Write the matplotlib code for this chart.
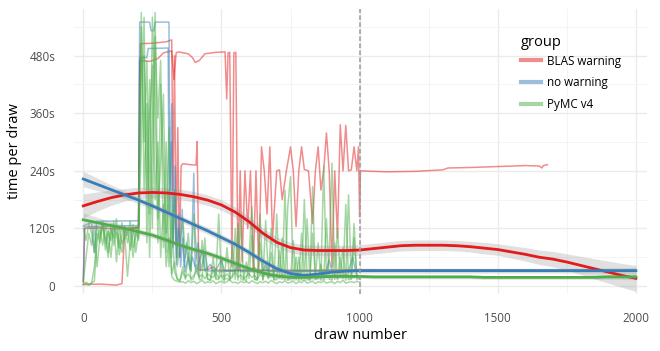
import numpy as np
import matplotlib
matplotlib.use('Agg')
import matplotlib.pyplot as plt
from matplotlib.lines import Line2D

plt.rcParams['font.family'] = ['Open Sans', 'DejaVu Sans']

groups = ['BLAS warning', 'no warning', 'PyMC v4']
colors = ['#E41A1C', '#377EB8', '#4DAF4A']

# ---- raw chains: BLAS warning (draw, seconds per draw) ----
blas_a_x = [0, 60, 120, 140, 150, 200, 204, 240, 270, 290, 320, 328, 336, 344, 380, 395, 405, 420, 440, 480,
            513, 519, 524, 530, 538, 545, 552, 560, 568, 575, 585, 595, 605, 615, 625, 635, 645, 655, 665, 675,
            685, 700, 710, 720, 735, 750, 760, 770, 780, 790, 800, 815, 830, 840, 850, 860, 870, 880, 890, 900,
            910, 920, 930, 940, 950, 960, 970, 980, 990, 996, 1000, 1003, 1100, 1200, 1300, 1320, 1400, 1500, 1600, 1650,
            1660, 1665, 1680]
blas_a_y = [3, 4, 2, 5, 118, 122, 470, 468, 474, 486, 490, 430, 486, 488, 484, 476, 466, 470, 484, 487,
            488, 390, 486, 487, 40, 486, 487, 30, 240, 50, 240, 120, 240, 30, 240, 35, 290, 240, 150, 290,
            100, 240, 242, 180, 240, 290, 240, 124, 240, 290, 243, 240, 130, 240, 290, 200, 240, 319, 240, 40,
            240, 100, 336, 240, 335, 240, 242, 290, 240, 290, 144, 240, 238, 239, 242, 246, 247, 249, 251, 250,
            246, 251, 253]
blas_b_x = [0, 5, 60, 120, 200, 207, 250, 300, 320, 325, 330, 336, 342, 348, 354, 360, 385, 408, 412, 418,
            450, 470, 480, 600, 620, 630, 800, 1000, 2000]
blas_b_y = [8, 120, 121, 119, 122, 505, 506, 509, 513, 200, 480, 90, 330, 60, 250, 255, 253, 252, 301, 33,
            34, 40, 33, 33, 38, 33, 33, 34, 33]

# ---- raw chains: no warning ----
nowarn_a_x = [0, 5, 100, 200, 204, 240, 245, 255, 260, 310, 314, 320, 326, 332, 338, 345, 352, 360, 368, 380,
              390, 400, 405, 415, 425, 440, 450, 480, 500, 510, 600, 640, 700, 960, 975, 985, 1000, 2000]
nowarn_a_y = [10, 123, 125, 126, 550, 550, 532, 532, 550, 550, 200, 380, 90, 250, 60, 150, 40, 100, 30, 60,
              32, 235, 40, 90, 32, 70, 31, 33, 55, 32, 32, 33, 31, 32, 60, 32, 32, 32]
nowarn_b_x = [0, 30, 40, 48, 200, 204, 230, 235, 307, 311, 318, 324, 330, 337, 344, 350, 358, 365, 375, 385,
              395, 410, 430, 440, 460, 470, 550, 560, 570, 650, 660, 670, 880, 890, 900, 1000, 2000]
nowarn_b_y = [125, 133, 70, 135, 136, 476, 476, 495, 496, 150, 300, 80, 200, 45, 120, 60, 160, 40, 90, 35,
              60, 30, 75, 31, 45, 30, 31, 50, 30, 31, 45, 30, 31, 55, 30, 31, 31]

# ---- raw chains: PyMC v4, one value every 10 draws from 0 to 1000 ----
pymc_a = [120, 95, 130, 110, 70, 125, 100, 135, 90, 115, 60, 128, 105, 80, 132, 98, 120, 75, 110, 125, 100,
          540, 300, 470, 150, 560, 380, 90, 420, 250, 110, 330, 60, 200, 40, 90,
          140, 60, 110, 30, 150, 70, 20, 95, 40, 15,
          12, 60, 15, 150, 20, 10, 80, 14, 18, 120, 12, 140, 16, 10, 60, 165, 15, 12, 90, 14,
          137, 20, 70, 12, 150, 18, 100, 14, 165, 228, 15, 60, 12, 110, 20, 140, 14, 207, 16, 90,
          12, 250, 18, 60, 256, 14, 120, 20, 80, 12, 190, 15, 130, 18, 20]
pymc_b = [5, 8, 4, 6, 10, 95, 120, 85, 130, 70, 118, 100, 140, 65, 105, 125, 90, 115, 60, 108, 130,
          470, 480, 200, 430, 120, 520, 350, 470, 80, 300, 40, 150, 30, 15, 12,
          40, 18, 25, 16, 22, 30, 18, 24, 15, 26, 20, 18, 28, 16, 22, 19, 25, 17, 21, 30,
          18, 23, 16, 20, 26, 18, 22, 15, 24, 19, 27, 17, 21, 18, 25, 16, 23, 20, 18, 26,
          17, 22, 19, 24, 16, 21, 25, 18, 20, 23, 17, 26, 19, 22, 18, 24, 16, 21, 20, 25,
          18, 22, 19, 23, 20]
pymc_c = [10, 60, 110, 85, 125, 40, 100, 130, 75, 115, 95, 135, 50, 120, 88, 105, 20, 90, 128, 70, 115,
          570, 200, 380, 60, 320, 570, 140, 260, 400, 70, 200, 20, 12, 10, 8,
          9, 6, 11, 7, 10, 5, 8, 12, 6, 9, 7, 11, 5, 8, 10, 6, 9, 13, 7, 8,
          5, 10, 7, 9, 6, 11, 8, 5, 9, 7, 10, 6, 12, 8, 5, 9, 7, 11, 6, 8,
          10, 5, 9, 7, 12, 6, 8, 10, 5, 9, 7, 11, 6, 8, 9, 5, 10, 7, 12, 6,
          8, 9, 7, 10, 8]
pymc_d = [3, 5, 2, 6, 40, 110, 90, 125, 100, 60, 130, 85, 115, 95, 70, 120, 105, 135, 80, 110, 95,
          300, 560, 90, 350, 460, 180, 300, 60, 170, 40, 100, 25, 50, 14, 10,
          30, 14, 70, 12, 16, 45, 13, 15, 100, 14, 12, 35, 15, 13, 60, 14, 16, 12, 85,
          14, 130, 15, 12, 50, 16, 105, 13, 14, 150, 12, 40, 15, 120, 14, 13, 75, 15, 200, 12,
          16, 95, 14, 60, 13, 180, 15, 12, 110, 14, 16, 45, 13, 140, 15, 12, 90, 14, 60, 16,
          170, 13, 15, 100, 14, 16]

# ---- smooth fits (every 50 draws, 0..2000) and their +/- band ----
fit_x = np.arange(0, 2001, 50)
blas_fit = [167, 176, 184, 190, 194, 195, 194, 191, 186, 179,
            169, 154, 134, 110, 91, 80, 75, 74, 74, 74,
            75, 78, 81, 84, 85, 85, 85, 84, 82, 79,
            76, 71, 66, 60, 56, 50, 43, 36, 29, 22, 16]
blas_se = [25, 20, 16, 13, 12, 11, 11, 11, 11, 11,
           11, 11, 11, 11, 11, 11, 11, 11, 11, 11,
           11, 11, 11, 11, 11, 11, 11, 11, 11, 12,
           12, 13, 14, 15, 16, 17, 19, 21, 23, 25, 27]
nowarn_fit = [223, 212, 201, 190, 179, 167, 154, 141, 128, 115,
              101, 87, 70, 52, 36, 26, 22, 25, 29, 31,
              32, 32, 32, 32, 32, 32, 32, 32, 32, 32,
              32, 32, 32, 32, 32, 32, 32, 32, 32, 32, 32]
nowarn_se = [16, 13, 10, 8, 7, 7, 7, 7, 7, 7,
             7, 7, 7, 7, 7, 7, 7, 6, 6, 6,
             5, 5, 5, 5, 5, 5, 5, 5, 5, 5,
             5, 5, 5, 5, 5, 5, 5, 5, 6, 6, 7]
pymc_fit = [138, 132, 126, 120, 113, 106, 96, 85, 76, 68,
            58, 47, 36, 27, 21, 18, 18, 19, 20, 20,
            20, 19, 19, 19, 19, 19, 19, 19, 19, 18,
            18, 18, 18, 18, 18, 18, 18, 18, 19, 19, 19]
pymc_se = [14, 11, 8, 7, 6, 6, 6, 6, 6, 6,
           6, 6, 6, 6, 6, 6, 6, 6, 5, 5,
           4, 4, 4, 4, 4, 4, 4, 4, 4, 4,
           4, 4, 4, 4, 4, 4, 4, 4, 5, 5, 6]

raw = {
    'BLAS warning': [(blas_a_x, blas_a_y), (blas_b_x, blas_b_y)],
    'no warning': [(nowarn_a_x, nowarn_a_y), (nowarn_b_x, nowarn_b_y)],
    'PyMC v4': [(np.arange(len(c)) * 10, c) for c in (pymc_a, pymc_b, pymc_c, pymc_d)],
}
fits = {
    'BLAS warning': (blas_fit, blas_se),
    'no warning': (nowarn_fit, nowarn_se),
    'PyMC v4': (pymc_fit, pymc_se),
}

fig = plt.figure(figsize=(6.6, 3.51), dpi=100)
ax = fig.add_axes([0.1121, 0.1638, 0.8677, 0.8097])

for g, c in zip(groups, colors):
    for xs, ys in raw[g]:
        ax.plot(xs, ys, color=c, lw=1.1, alpha=0.5, zorder=2)

for g, c in zip(groups, colors):
    f, se = np.array(fits[g][0]), np.array(fits[g][1])
    ax.fill_between(fit_x, f - se, f + se, color='#999999', alpha=0.3, lw=0, zorder=3)
    ax.plot(fit_x, f, color=c, lw=2.0, zorder=4)

ax.axvline(1000, color='#999999', lw=1.1, ls=(0, (3, 1.6)), zorder=5)

ax.set_xlim(-33.7, 2039)
ax.set_ylim(-15.6, 576.7)
ax.set_xticks([0, 500, 1000, 1500, 2000])
ax.set_xticks([250, 750, 1250, 1750], minor=True)
ax.set_yticks([0, 120, 240, 360, 480])
ax.set_yticks([60, 180, 300, 420, 540], minor=True)
ax.set_yticklabels(['0', '120s', '240s', '360s', '480s'])
ax.grid(which='major', color='#EBEBEB', lw=1.0)
ax.grid(which='minor', color='#F3F3F3', lw=0.6)
ax.set_axisbelow(True)
ax.tick_params(which='both', length=0, pad=13.5, labelsize=8.4, labelcolor='#4D4D4D')
for s in ax.spines.values():
    s.set_visible(False)

ax.set_xlabel('draw number', fontsize=10.5)
ax.xaxis.label.set_va('center')
ax.xaxis.set_label_coords(0.5, -0.146)
ax.set_ylabel('time per draw', fontsize=10.5)
ax.yaxis.label.set_va('center')
ax.yaxis.set_label_coords(-0.103, 0.5)

# legend: title as its own text, entries below it
fig.text(521 / 660, 1 - 43 / 351, 'group', fontsize=10.5, va='center', ha='left')
handles = [Line2D([], [], color=c, lw=3, alpha=0.5) for c in colors]
ax.legend(handles, groups, loc='upper left',
          bbox_to_anchor=(521 / 660, 1 - 54.5 / 351), bbox_transform=fig.transFigure,
          frameon=False, fontsize=8.4, handlelength=1.75,
          handletextpad=0.45, labelspacing=0.77, borderpad=0, borderaxespad=0)

fig.savefig('out.png', dpi=100)
